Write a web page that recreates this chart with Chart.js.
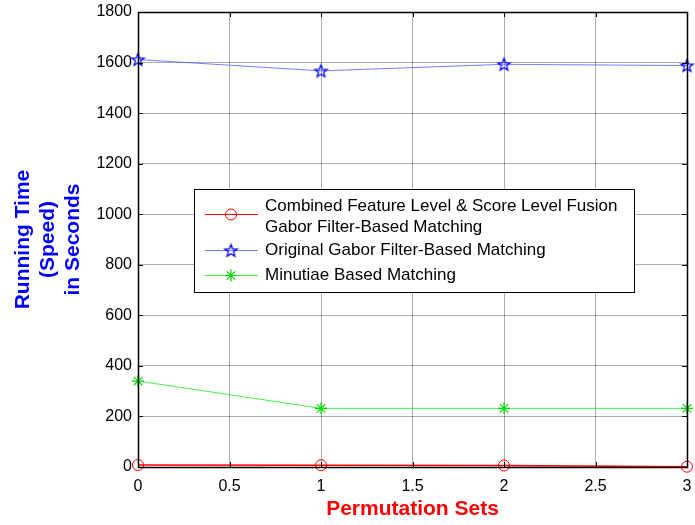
<!DOCTYPE html>
<html>
<head>
<meta charset="utf-8">
<script src="https://cdn.jsdelivr.net/npm/chart.js@4/dist/chart.umd.min.js"></script>
<style>
html,body{margin:0;padding:0;background:#fff;}
#wrap{position:relative;width:695px;height:525px;}
</style>
</head>
<body>
<div id="wrap"><canvas id="c" width="695" height="525"></canvas></div>
<script>
const permutationSets = [0, 1, 2, 3];
const combinedFusion = [8, 7, 6, 1];
const originalGabor = [1612, 1567, 1593, 1588];
const minutiaeBased = [340, 232, 232, 232];
const xTicks = [0, 0.5, 1, 1.5, 2, 2.5, 3];
const yTicks = [0, 200, 400, 600, 800, 1000, 1200, 1400, 1600, 1800];
const seriesNames = [
  ["Combined Feature Level & Score Level Fusion", "Gabor Filter-Based Matching"],
  ["Original Gabor Filter-Based Matching"],
  ["Minutiae Based Matching"]
];
const yTitle = ["Running Time", "(Speed)", "in Seconds"];
const xTitle = "Permutation Sets";

function toPoints(arr){ return permutationSets.map((x,i)=>({x:x, y:arr[i]})); }

function pentagram(color, r){
  const c = document.createElement('canvas');
  const s = Math.ceil(r*2+4);
  c.width = s; c.height = s;
  const g = c.getContext('2d');
  g.strokeStyle = color; g.lineWidth = 1.3;
  g.beginPath();
  const cx = s/2, cy = s/2 + 0.5, ri = r*0.42;
  for(let k=0;k<10;k++){
    const a = -Math.PI/2 + k*Math.PI/5;
    const rr = k%2===0 ? r : ri;
    const px = cx + rr*Math.cos(a), py = cy + rr*Math.sin(a);
    if(k===0) g.moveTo(px,py); else g.lineTo(px,py);
  }
  g.closePath(); g.stroke();
  return c;
}
const starImg = pentagram('#0000ff', 6.5);

const colors = ['#ff0000', 'rgba(70,70,255,0.7)', 'rgba(40,235,40,0.85)'];
const markerColors = ['#ff0000', '#0000ff', '#00dd00'];

function drawMarker(ctx, idx, x, y){
  ctx.save();
  if(idx===0){
    ctx.strokeStyle = markerColors[0]; ctx.lineWidth = 1;
    ctx.beginPath(); ctx.arc(x,y,5.5,0,Math.PI*2); ctx.stroke();
  } else if(idx===1){
    ctx.drawImage(starImg, x - starImg.width/2, y - starImg.height/2);
  } else {
    ctx.strokeStyle = markerColors[2]; ctx.lineWidth = 1.2;
    ctx.beginPath();
    const r = 6;
    ctx.moveTo(x-r,y); ctx.lineTo(x+r,y);
    ctx.moveTo(x,y-r); ctx.lineTo(x,y+r);
    const d = r*0.7;
    ctx.moveTo(x-d,y-d); ctx.lineTo(x+d,y+d);
    ctx.moveTo(x-d,y+d); ctx.lineTo(x+d,y-d);
    ctx.stroke();
  }
  ctx.restore();
}

const frameAndLegend = {
  id: 'frameAndLegend',
  afterDatasetsDraw(chart){
    const ctx = chart.ctx;
    const a = chart.chartArea;
    const xs = chart.scales.x, ys = chart.scales.y;
    ctx.save();
    ctx.strokeStyle = '#000'; ctx.lineWidth = 1;
    ctx.beginPath();
    xTicks.forEach(v=>{
      const px = Math.round(xs.getPixelForValue(v))+0.5;
      ctx.moveTo(px, a.bottom); ctx.lineTo(px, a.bottom-5);
      ctx.moveTo(px, a.top); ctx.lineTo(px, a.top+5);
    });
    yTicks.forEach(v=>{
      const py = Math.round(ys.getPixelForValue(v))+0.5;
      ctx.moveTo(a.left, py); ctx.lineTo(a.left+5, py);
      ctx.moveTo(a.right, py); ctx.lineTo(a.right-5, py);
    });
    ctx.stroke();
    ctx.lineWidth = 1.5;
    ctx.strokeRect(Math.round(a.left)+0.5, Math.round(a.top)+0.5, Math.round(a.right-a.left), Math.round(a.bottom-a.top));
    const L = 194, T = 189, R = 634, B = 292;
    ctx.fillStyle = '#fff';
    ctx.fillRect(L, T, R-L, B-T);
    ctx.lineWidth = 1;
    ctx.strokeStyle = '#000';
    ctx.strokeRect(L+0.5, T+0.5, R-L, B-T);
    ctx.font = '17px "Liberation Sans", Arial, sans-serif';
    ctx.textBaseline = 'middle';
    ctx.textAlign = 'left';
    const rowY = [[206,227],[250],[275]];
    const lineY = [214, 250, 275];
    seriesNames.forEach((lines, i)=>{
      ctx.strokeStyle = colors[i];
      ctx.lineWidth = 1;
      ctx.beginPath(); ctx.moveTo(205, lineY[i]+0.5); ctx.lineTo(258, lineY[i]+0.5); ctx.stroke();
      drawMarker(ctx, i, 231, lineY[i]+0.5);
      ctx.fillStyle = '#000';
      lines.forEach((t, k)=> ctx.fillText(t, 265, rowY[i][k]));
    });
    ctx.restore();
  }
};

const markerPlugin = {
  id: 'markers',
  afterDatasetsDraw(chart){
    const ctx = chart.ctx;
    chart.data.datasets.forEach((ds, i)=>{
      const meta = chart.getDatasetMeta(i);
      meta.data.forEach(pt=> drawMarker(ctx, i, pt.x, pt.y));
    });
  }
};

function zeroPad(s){ s.paddingTop = 0; s.paddingBottom = 0; s.paddingLeft = 0; s.paddingRight = 0; }

new Chart(document.getElementById('c'), {
  type: 'line',
  data: {
    datasets: [
      { label: seriesNames[0].join(' '), data: toPoints(combinedFusion), borderColor: colors[0], borderWidth: 1.5, pointRadius: 0, clip: false, tension: 0 },
      { label: seriesNames[1][0], data: toPoints(originalGabor), borderColor: colors[1], borderWidth: 1, pointRadius: 0, clip: false, tension: 0 },
      { label: seriesNames[2][0], data: toPoints(minutiaeBased), borderColor: colors[2], borderWidth: 1, pointRadius: 0, clip: false, tension: 0 }
    ]
  },
  options: {
    responsive: false,
    animation: false,
    devicePixelRatio: 1,
    layout: { padding: { top: 12, right: 8, left: 0, bottom: 0 } },
    plugins: { legend: { display: false }, tooltip: { enabled: false } },
    scales: {
      x: {
        type: 'linear', min: 0, max: 3,
        afterBuildTicks: s => { s.ticks = xTicks.map(v=>({value:v})); },
        afterFit: s => { s.height = 58; zeroPad(s); },
        grid: { color: 'rgba(0,0,0,0.32)', lineWidth: 1, drawTicks: false },
        border: { display: false },
        ticks: { color: '#000', padding: 10, font: { family: '"Liberation Sans", Arial, sans-serif', size: 16 }, callback: v => String(v), maxRotation: 0, autoSkip: false },
        title: { display: true, text: xTitle, color: '#ff0000', font: { family: '"Liberation Sans", Arial, sans-serif', size: 21, weight: 'bold', lineHeight: 1.15 }, padding: { top: 0, bottom: 4 } }
      },
      y: {
        type: 'linear', min: 0, max: 1800,
        afterBuildTicks: s => { s.ticks = yTicks.map(v=>({value:v})); },
        afterFit: s => { s.width = 138; zeroPad(s); },
        grid: { color: 'rgba(0,0,0,0.32)', lineWidth: 1, drawTicks: false },
        border: { display: false },
        ticks: { color: '#000', padding: 6, font: { family: '"Liberation Sans", Arial, sans-serif', size: 16 }, callback: v => String(v), autoSkip: false },
        title: { display: true, text: yTitle, color: '#0000ff', font: { family: '"Liberation Sans", Arial, sans-serif', size: 21, weight: 'bold', lineHeight: 1.19 }, padding: { top: 11, bottom: 0 } }
      }
    }
  },
  plugins: [markerPlugin, frameAndLegend]
});
</script>
</body>
</html>
